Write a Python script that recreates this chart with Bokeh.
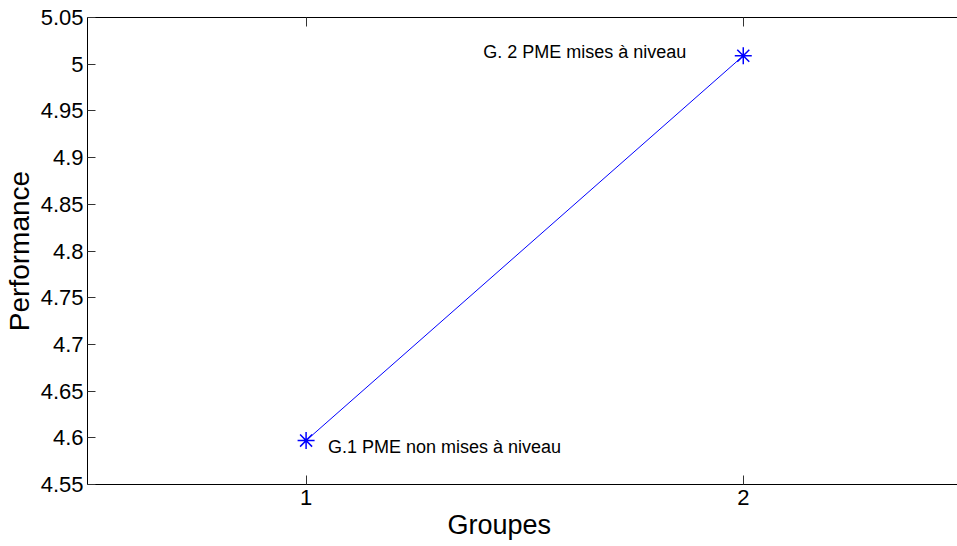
from bokeh.plotting import figure
from bokeh.models import Range1d, FixedTicker, CustomJSTickFormatter, LinearAxis, Title
from bokeh.core.properties import value
from bokeh.embed import file_html
from bokeh.resources import INLINE

# Data
groups = [1, 2]
performance = [4.597, 5.009]
x_ticks = [1, 2]
y_ticks = [4.55, 4.6, 4.65, 4.7, 4.75, 4.8, 4.85, 4.9, 4.95, 5.0, 5.05]
labels = ["G.1 PME non mises à niveau", "G. 2 PME mises à niveau"]
label_x = [1.05, 1.405]
label_y = [4.5905, 5.0135]
x_title = "Groupes"
y_title = "Performance"

FONT = "Liberation Sans"

p = figure(width=957, height=546, output_backend="svg", toolbar_location=None,
           x_range=Range1d(0.5, 2.49), y_range=Range1d(4.55, 5.05),
           min_border_left=87, min_border_right=0, min_border_top=17, min_border_bottom=62,
           title=None)
p.background_fill_color = "white"
p.border_fill_color = "white"
p.outline_line_color = None
p.grid.visible = False

p.line(groups, performance, line_color="#0000ff", line_width=1)
p.scatter(groups, performance, marker="asterisk", size=17, line_color="#0000ff", line_width=1.5)

p.text(x=label_x, y=label_y, text=labels, text_font=value(FONT), text_font_size="18px",
       text_baseline="middle", text_align="left", text_color="black")

fmt = CustomJSTickFormatter(code="return tick.toFixed(2).replace(/\\.?0+$/, '');")

xa = p.xaxis[0]
xa.ticker = FixedTicker(ticks=x_ticks)
ya = p.yaxis[0]
ya.ticker = FixedTicker(ticks=y_ticks)
ya.formatter = fmt
ya.axis_label = y_title

for ax in (xa, ya):
    ax.axis_line_color = "black"
    ax.axis_line_width = 1
    ax.major_tick_line_color = "#333333"
    ax.major_tick_out = 0
    ax.minor_tick_line_color = None
    ax.major_label_text_font = FONT
    ax.major_label_text_font_size = "22px"
    ax.major_label_text_color = "black"
    ax.axis_label_text_font = FONT
    ax.axis_label_text_font_size = "28px"
    ax.axis_label_text_font_style = "normal"
    ax.axis_label_text_color = "black"

xa.major_tick_in = 9
xa.major_label_standoff = 5
ya.major_tick_in = 8
ya.major_label_standoff = 4
ya.axis_label_standoff = 3

top = LinearAxis(ticker=FixedTicker(ticks=x_ticks),
                 formatter=CustomJSTickFormatter(code="return '';"),
                 major_label_standoff=0, axis_line_color="black", major_tick_in=9,
                 major_tick_out=0, major_tick_line_color="#333333", minor_tick_line_color=None)
p.add_layout(top, "above")

xt = Title(text=x_title, align="left", offset=360, text_font=FONT,
           text_font_size="27px", text_font_style="normal", text_color="black",
           standoff=0)
p.add_layout(xt, "below")

open("out.html", "w").write(file_html(p, INLINE))
